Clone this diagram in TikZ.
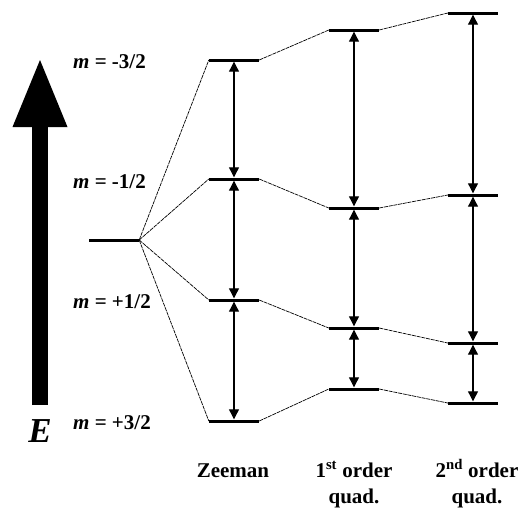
\documentclass[tikz,border=0pt]{standalone}
\usepackage{fontspec}
\setmainfont{Liberation Serif}
\usetikzlibrary{positioning,arrows.meta}

\begin{document}
\begin{tikzpicture}[
  x=1pt, y=-1pt,
  lvl/.style={rectangle, fill=black, minimum width=50pt, minimum height=3pt,
              inner sep=0pt},
  tie/.style={line width=0.7pt, dash pattern=on 4pt off 0.8pt},
  gap/.style={{Triangle[length=10pt,width=10pt]}-{Triangle[length=10pt,width=10pt]},
              line width=1.1pt},
  mlab/.style={anchor=base west, inner sep=0pt,
               font=\fontsize{21}{24}\selectfont\bfseries},
  clab/.style={anchor=base, align=center, inner sep=0pt,
               font=\fontsize{21}{26}\selectfont\bfseries},
]
\useasboundingbox (0,0) rectangle (521,507);
%─── energy axis ───────────────────────────────────────────────────────────
\coordinate (ebot) at (40,405);
\coordinate (etop) at (40,60);
\draw[line width=16pt, -{Triangle[length=67pt,width=55pt,line width=0pt]}]
  (ebot) -- (etop);
\node[font=\fontsize{35}{35}\selectfont\bfseries\itshape, anchor=base,
      inner sep=0pt] (E) at (40,442) {E};
%─── spin labels ───────────────────────────────────────────────────────────
\node[mlab] (m1) at (73,68)  {\textit{m} = -3/2};
\node[mlab] (m2) at (73,188) {\textit{m} = -1/2};
\node[mlab] (m3) at (73,308) {\textit{m} = +1/2};
\node[mlab] (m4) at (73,429) {\textit{m} = +3/2};
%─── levels ────────────────────────────────────────────────────────────────
\node[lvl] (g)  at (114,240) {};
% Zeeman
\node[lvl] (z1) at (234,60)  {};
\node[lvl] (z2) at (234,179) {};
\node[lvl] (z3) at (234,300) {};
\node[lvl] (z4) at (234,421) {};
% first order quadrupole
\node[lvl] (f1) at (354,30)  {};
\node[lvl] (f2) at (354,208) {};
\node[lvl] (f3) at (354,328) {};
\node[lvl] (f4) at (354,389) {};
% second order quadrupole
\node[lvl] (s1) at (473,13)  {};
\node[lvl] (s2) at (473,195) {};
\node[lvl] (s3) at (473,343) {};
\node[lvl] (s4) at (473,403) {};
%─── correlation lines ─────────────────────────────────────────────────────
\draw[tie] (g.east) -- (z1.west);  \draw[tie] (g.east) -- (z2.west);
\draw[tie] (g.east) -- (z3.west);  \draw[tie] (g.east) -- (z4.west);
\draw[tie] (z1.east) -- (f1.west); \draw[tie] (z2.east) -- (f2.west);
\draw[tie] (z3.east) -- (f3.west); \draw[tie] (z4.east) -- (f4.west);
\draw[tie] (f1.east) -- (s1.west); \draw[tie] (f2.east) -- (s2.west);
\draw[tie] (f3.east) -- (s3.west); \draw[tie] (f4.east) -- (s4.west);
%─── transitions ───────────────────────────────────────────────────────────
\draw[gap] (z1) -- (z2); \draw[gap] (z2) -- (z3); \draw[gap] (z3) -- (z4);
\draw[gap] (f1) -- (f2); \draw[gap] (f2) -- (f3); \draw[gap] (f3) -- (f4);
\draw[gap] (s1) -- (s2); \draw[gap] (s2) -- (s3); \draw[gap] (s3) -- (s4);
%─── column labels ─────────────────────────────────────────────────────────
\node[clab] (zl) at (233,477) {Zeeman};
\node[clab] (fl) at (354,503) {1\textsuperscript{st} order\\quad.};
\node[clab] (sl) at (477,503) {2\textsuperscript{nd} order\\quad.};
\end{tikzpicture}
\end{document}
